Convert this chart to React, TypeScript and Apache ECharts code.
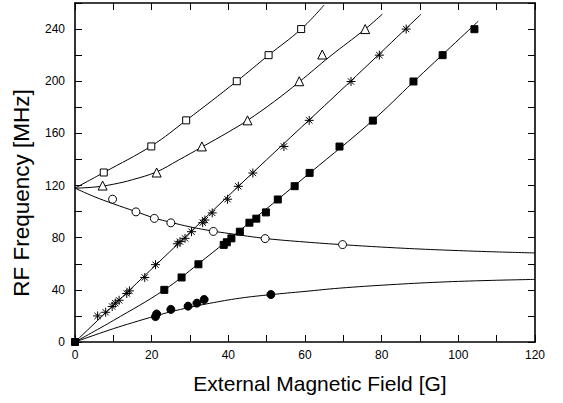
import React, { useEffect, useRef } from "react";
import * as echarts from "echarts";

// ---- measured points ----
const openSquares = [[7.5,130],[19.9,150],[29,170],[42.2,200],[50.5,220],[59,240]];
const openTriangles = [[7.2,120],[21.3,130],[33.1,150],[45,170],[58.5,200],[64.5,220.5],[75.7,240]];
const openCircles = [[9.8,109.5],[15.9,99.8],[20.7,94.8],[25,91.4],[36.1,84.8],[49.6,79.3],[69.8,74.7]];
const stars = [[5.9,20],[8,22.8],[9.7,27.2],[10.5,29.8],[11.5,32],[13.5,37.2],[14.2,39.2],[18.2,49.5],[21,59.3],[26.7,75.3],[27.4,77],[28.7,79.5],[30.4,84.6],[33.3,91.5],[33.9,93.5],[35.8,99],[39.8,109.5],[42.6,119.4],[46.4,129.6],[54.5,150],[61.1,170],[72,199.8],[79.4,220],[86.4,240]];
const filledSquares = [[0,0],[23.3,40],[27.8,49.5],[32.2,59.6],[38.8,74.5],[39.6,76.5],[40.8,79.5],[43,84.6],[45.5,91.5],[47.3,94.6],[49.8,99.4],[52.9,109.3],[57.3,119.5],[61.2,129.7],[69,149.9],[77.7,169.8],[88.3,199.8],[95.9,220],[104.2,239.9]];
const filledCircles = [[21,19.5],[21.3,21.5],[25,25],[29.5,27.5],[31.8,29.8],[33.7,32.6],[51.1,36.4]];

// ---- fitted curves ----
const curveSquare = [[0,118],[7.5,130],[20,150.5],[29,170],[42.2,200],[50.5,220],[59,240],[65,258.5]];
const curveTriangle = [[0,118],[5,118.8],[10,121],[15,124.5],[21.3,130.5],[27,139.5],[33.1,149.5],[40,161],[45,170],[52,184.5],[58.5,199.5],[66.5,219],[75.7,240],[80.2,251.5]];
const curveOpenCircle = [[0,118],[5,111.5],[10,106],[15.9,100],[20.6,95.2],[25,91.8],[30,88.3],[36.1,85],[40,83.3],[50,79.3],[60,76.7],[70,74.6],[80,72.8],[90,71.3],[100,70.1],[110,69.1],[120,68.3]];
const curveStar = [[0,0],[21,58.8],[46.3,129.6],[72,200.3],[90.3,251.5]];
const curveFilledSquare = [[0,0],[10,16.5],[23.3,40],[32.2,60],[45.5,91.5],[61.2,129.5],[77.7,170],[88.3,199.5],[105.2,246]];
const curveFilledCircle = [[0,0],[5,5.2],[10,10.2],[15,14.8],[21,20],[25,23.2],[30,26.6],[35,29.6],[43,33.6],[51,36.3],[60,38.8],[69,41.3],[82,43.9],[95,45.9],[108,47.2],[120,48]];

const X_MIN = 0, X_MAX = 120, X_STEP = 10, X_LABEL_STEP = 20;
const Y_MIN = 0, Y_MAX = 260, Y_STEP = 20, Y_LABEL_STEP = 40, Y_LABEL_MAX = 240;
const X_TITLE = "External Magnetic Field [G]";
const Y_TITLE = "RF Frequency [MHz]";

const FONT = "'Liberation Sans', Arial, Helvetica, sans-serif";
const STAR = "path://M5,0L5,10M0,5L10,5M1.5,1.5L8.5,8.5M8.5,1.5L1.5,8.5";

export default function App() {
  const ref = useRef<HTMLDivElement>(null);
  useEffect(() => {
    if (!ref.current) return;
    const chart = echarts.init(ref.current, null, { renderer: "svg" });
    const axisLine = { show: true, onZero: false, lineStyle: { color: "#000", width: 1.6 } };
    const tick = { show: true, inside: true, length: 7, lineStyle: { color: "#000", width: 1 } };
    const label = { color: "#000", fontSize: 12, fontFamily: FONT };
    const curve = (data: number[][]) => ({
      type: "line", data, smooth: 0.4, showSymbol: false, symbol: "none",
      lineStyle: { color: "#000", width: 1 }, z: 2, silent: true,
    });
    const pts = (data: number[][], symbol: string, size: number, fill: string, stroke = "#000") => ({
      type: "scatter", data, symbol, symbolSize: size, z: 5,
      itemStyle: { color: fill, borderColor: stroke, borderWidth: 1, opacity: 1 },
    });
    chart.setOption({
      animation: false,
      backgroundColor: "#fff",
      grid: { left: 75, right: 28, top: 3, bottom: 61, containLabel: false },
      xAxis: [
        { type: "value", min: X_MIN, max: X_MAX, interval: X_STEP, position: "bottom",
          axisLine, axisTick: tick, splitLine: { show: false },
          axisLabel: { ...label, margin: 7, formatter: (v: number) => (v % X_LABEL_STEP === 0 ? String(v) : "") } },
        { type: "value", min: X_MIN, max: X_MAX, interval: X_STEP, position: "top",
          axisLine, axisTick: tick, splitLine: { show: false }, axisLabel: { show: false } },
      ],
      yAxis: [
        { type: "value", min: Y_MIN, max: Y_MAX, interval: Y_STEP, position: "left",
          axisLine, axisTick: tick, splitLine: { show: false },
          axisLabel: { ...label, margin: 10, formatter: (v: number) => (v % Y_LABEL_STEP === 0 && v <= Y_LABEL_MAX ? String(v) : "") } },
        { type: "value", min: Y_MIN, max: Y_MAX, interval: Y_STEP, position: "right",
          axisLine, axisTick: tick, splitLine: { show: false }, axisLabel: { show: false } },
      ],
      graphic: [
        { type: "text", x: 320, y: 383, silent: true,
          style: { text: X_TITLE, font: `21px ${FONT}`, fill: "#000", textAlign: "center", textVerticalAlign: "middle" } },
        { type: "text", x: 21, y: 193, rotation: Math.PI / 2, silent: true,
          style: { text: Y_TITLE, font: `22.5px ${FONT}`, fill: "#000", textAlign: "center", textVerticalAlign: "middle" } },
      ],
      series: [
        curve(curveSquare),
        curve(curveTriangle),
        curve(curveOpenCircle),
        curve(curveStar),
        curve(curveFilledSquare),
        curve(curveFilledCircle),
        pts(openSquares, "rect", 7, "#fff"),
        pts(openTriangles, "triangle", 9, "#fff"),
        pts(openCircles, "circle", 8, "#fff"),
        pts(stars, STAR, 9, "rgba(0,0,0,0)"),
        pts(filledSquares, "rect", 7, "#000"),
        pts(filledCircles, "circle", 8, "#000"),
      ],
    });
    return () => chart.dispose();
  }, []);
  return <div ref={ref} style={{ position: "fixed", left: 0, top: 0, width: 563, height: 403 }} />;
}
